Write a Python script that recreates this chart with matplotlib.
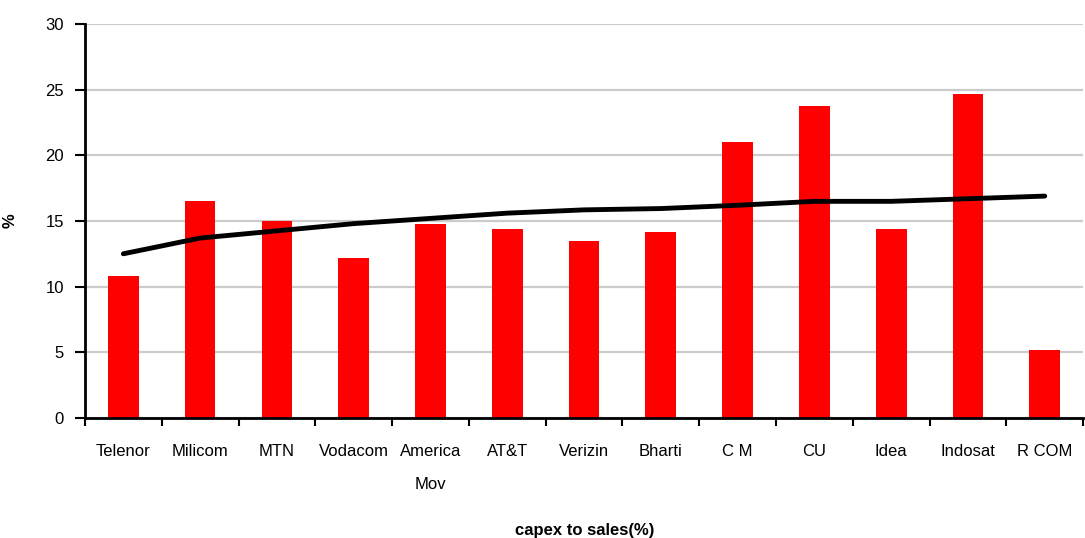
import matplotlib.pyplot as plt
import numpy as np

companies = ["Telenor", "Milicom", "MTN", "Vodacom", "America\nMov", "AT&T",
             "Verizin", "Bharti", "C M", "CU", "Idea", "Indosat", "R COM"]
capex_to_sales = [10.8, 16.5, 15.0, 12.2, 14.8, 14.4, 13.5, 14.2, 21.0, 23.8, 14.4, 24.7, 5.15]
trend = [12.5, 13.7, 14.25, 14.8, 15.2, 15.6, 15.85, 15.95, 16.2, 16.5, 16.5, 16.7, 16.9]

plt.rcParams['font.family'] = ['Liberation Sans', 'DejaVu Sans']

fig = plt.figure(figsize=(10.85, 5.38), dpi=100)
ax = fig.add_axes([0.0783, 0.2236, 0.92, 0.7312])

x = np.arange(len(companies))
ax.bar(x, capex_to_sales, width=0.4, color='#ff0000', zorder=2)
ax.plot(x, trend, color='black', linewidth=3.5, solid_capstyle='round', zorder=3)

ax.set_xlim(-0.5, len(companies) - 0.5)
ax.set_ylim(0, 30)
ax.set_yticks(range(0, 31, 5))
ax.yaxis.grid(True, color='#cccccc', linewidth=1.6, zorder=0)
ax.set_axisbelow(True)

ax.set_xticks(x)
ax.set_xticklabels(companies, fontsize=12)
for lbl in ax.get_xticklabels():
    lbl.set_linespacing(2.5)
    lbl.set_verticalalignment('top')
ax.set_xticks(np.arange(-0.5, len(companies)), minor=True)
ax.tick_params(axis='x', which='major', length=0, pad=19)
ax.tick_params(axis='x', which='minor', length=6, width=1.5, direction='out')
ax.tick_params(axis='y', length=7, width=1.5, labelsize=12, pad=8)

for side in ['top', 'right']:
    ax.spines[side].set_visible(False)
ax.spines['left'].set_linewidth(2)
ax.spines['bottom'].set_linewidth(2)

ax.set_ylabel('%', fontsize=12, fontweight='bold', labelpad=20)
fig.text(0.539, 0.0, 'capex to sales(%)', fontsize=12, fontweight='bold', ha='center', va='bottom')

fig.savefig('out.png', dpi=100)
